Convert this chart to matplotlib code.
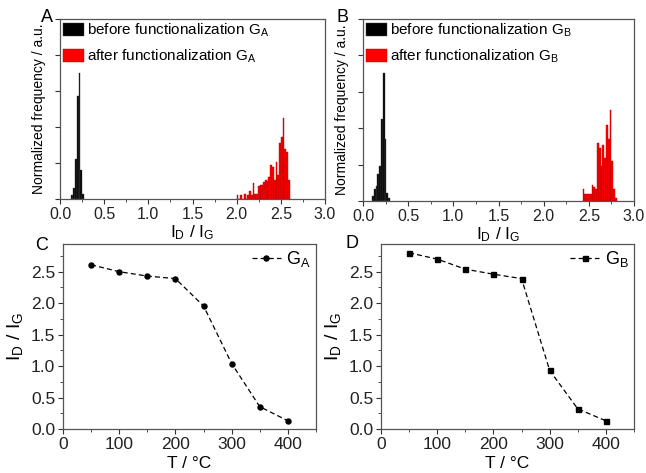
import matplotlib.pyplot as plt
from matplotlib.ticker import MultipleLocator, NullFormatter

plt.rcParams['font.family'] = ['Liberation Sans', 'DejaVu Sans']
plt.rcParams['mathtext.fontset'] = 'custom'
plt.rcParams['mathtext.rm'] = 'Liberation Sans'
plt.rcParams['mathtext.it'] = 'Liberation Sans'

# histogram data (bin centres, normalized heights)
bin_w = 0.02
a_before_x = [0.14, 0.16, 0.18, 0.20, 0.22, 0.24, 0.26]
a_before_h = [0.02, 0.06, 0.22, 0.57, 0.70, 0.16, 0.03]
a_after_x = [round(2.01 + 0.02 * i, 2) for i in range(31)]
a_after_h = [0.022, 0.0, 0.022, 0.0, 0.03, 0.0, 0.02, 0.046, 0.02, 0.09,
             0.03, 0.03, 0.072, 0.078, 0.075, 0.096, 0.105, 0.10, 0.12, 0.19,
             0.18, 0.105, 0.207, 0.133, 0.313, 0.346, 0.448, 0.276, 0.263, 0.105,
             0.0]

b_before_x = [0.11, 0.13, 0.15, 0.17, 0.19, 0.21, 0.23, 0.25, 0.27, 0.29]
b_before_h = [0.027, 0.064, 0.082, 0.147, 0.19, 0.45, 0.705, 0.34, 0.046, 0.015]
b_after_x = [round(2.44 + 0.02 * i, 2) for i in range(19)]
b_after_h = [0.064, 0.038, 0.038, 0.038, 0.038, 0.088, 0.075, 0.064, 0.32, 0.29,
             0.19, 0.31, 0.234, 0.42, 0.34, 0.50, 0.22, 0.064, 0.015]

# ID/IG vs temperature
temp = [50, 100, 150, 200, 250, 300, 350, 400]
ratio_a = [2.61, 2.50, 2.43, 2.39, 1.955, 1.04, 0.355, 0.13]
ratio_b = [2.80, 2.70, 2.54, 2.46, 2.39, 0.93, 0.32, 0.13]

ratio_label = r'I$_\mathregular{D}$ / I$_\mathregular{G}$'
spine_col = '#555555'

fig = plt.figure(figsize=(6.46, 4.73), dpi=100)

def style_axes(ax):
    for s in ax.spines.values():
        s.set_color(spine_col)
        s.set_linewidth(0.9)
    ax.tick_params(which='both', direction='out', colors='#333333', labelcolor='#222222')
    ax.tick_params(which='major', length=3.5)
    ax.tick_params(which='minor', length=2)

def hist_panel(rect, bx, bh, ax_, ah, grp, letter, lx):
    ax = fig.add_axes(rect)
    ax.bar(bx, bh, width=bin_w, color='black', edgecolor='#444444', linewidth=0.3,
           label='before functionalization G$_\\mathregular{%s}$' % grp)
    ax.bar(ax_, ah, width=bin_w, color='#ff0000', edgecolor='#b00000', linewidth=0.3,
           label='after functionalization G$_\\mathregular{%s}$' % grp)
    ax.set_xlim(0, 3.0)
    ax.set_ylim(0, 1.0)
    ax.xaxis.set_major_locator(MultipleLocator(0.5))
    ax.xaxis.set_minor_locator(MultipleLocator(0.25))
    ax.yaxis.set_major_locator(MultipleLocator(0.2))
    ax.yaxis.set_major_formatter(NullFormatter())
    ax.tick_params(axis='x', labelsize=11.5, pad=2)
    style_axes(ax)
    ax.set_xlabel(ratio_label, fontsize=12.5, labelpad=1)
    ax.set_ylabel('Normalized frequency / a.u.', fontsize=10, labelpad=3)
    ax.legend(loc='upper left', frameon=False, fontsize=11, handlelength=1.4,
              handleheight=0.9, handletextpad=0.15, labelspacing=0.55,
              borderaxespad=0.1, borderpad=0.1)
    fig.text(lx, 1 - 18 / 473, letter, fontsize=13, ha='center', va='center')

hist_panel([60 / 646, 274 / 473, 265 / 646, 180 / 473],
           a_before_x, a_before_h, a_after_x, a_after_h, 'A', 'A', 47 / 646)
hist_panel([363 / 646, 272 / 473, 271 / 646, 182 / 473],
           b_before_x, b_before_h, b_after_x, b_after_h, 'B', 'B', 343 / 646)

def temp_panel(rect, y, marker, grp, letter, lx, ly):
    ax = fig.add_axes(rect)
    ax.plot(temp, y, color='black', linestyle=(0, (4, 2.5)), linewidth=0.9,
            marker=marker, markersize=3.6, label='G$_\\mathregular{%s}$' % grp)
    ax.set_xlim(0, 450)
    ax.set_ylim(0, 2.94)
    ax.xaxis.set_major_locator(MultipleLocator(100))
    ax.xaxis.set_minor_locator(MultipleLocator(50))
    ax.yaxis.set_major_locator(MultipleLocator(0.5))
    ax.yaxis.set_minor_locator(MultipleLocator(0.25))
    ax.yaxis.set_major_formatter(plt.FuncFormatter(lambda v, p: '%.1f' % v))
    ax.tick_params(labelsize=12.5, pad=2)
    style_axes(ax)
    ax.set_xlabel('T / \u00b0C', fontsize=12.5, labelpad=3)
    ax.set_ylabel(ratio_label, fontsize=14, labelpad=4)
    ax.legend(loc='upper right', frameon=False, fontsize=13, handlelength=1.6,
              handletextpad=0.3, borderaxespad=0.2, borderpad=0.1)
    fig.text(lx, ly, letter, fontsize=13, ha='center', va='center')

temp_panel([63 / 646, 44 / 473, 253 / 646, 185 / 473], ratio_a, 'o', 'A', 'C',
           42 / 646, 1 - 245 / 473)
temp_panel([381 / 646, 44 / 473, 253 / 646, 185 / 473], ratio_b, 's', 'B', 'D',
           352 / 646, 1 - 243 / 473)

fig.savefig('out.png', dpi=100)
